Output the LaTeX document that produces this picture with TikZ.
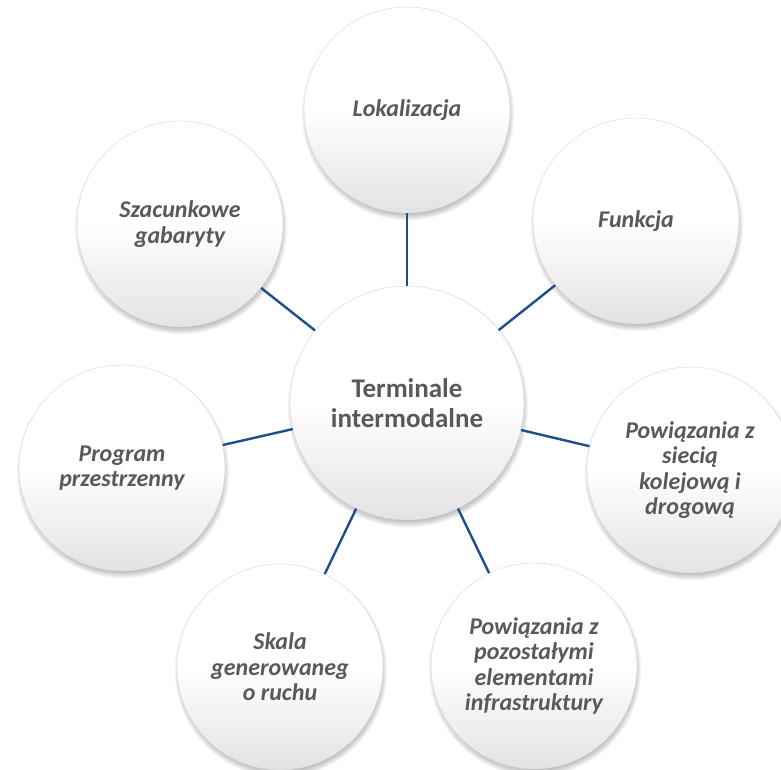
\documentclass[tikz,border=0pt]{standalone}
\usepackage{fontspec}
\setmainfont{Carlito}
\definecolor{txt}{RGB}{89,89,89}
\definecolor{conn}{RGB}{32,78,140}
\usetikzlibrary{shadings}
\tikzset{
  bubble/.style={circle, inner sep=0pt, minimum size=206pt, align=center,
    top color=white, bottom color=black!11, middle color=white,
    draw=black!16, line width=0.4pt,
    font=\fontsize{24}{25.5}\selectfont\bfseries\itshape, text=txt},
  hub/.style={bubble, minimum size=234pt, font=\fontsize{27}{30}\selectfont\bfseries},
  link/.style={draw=conn, line width=2.4pt},
}
\newcommand{\shadowcirc}[3]{%
  \foreach \k in {0,...,7}{
    \fill[black, opacity=0.035] (#1+1,#2+4) circle ({#3+0.9*\k});
  }}
\begin{document}
\begin{tikzpicture}[x=1pt,y=-1pt]
\useasboundingbox (0,0) rectangle (781,769);
\clip (0,0) rectangle (781,769);
% shadows
\shadowcirc{407}{403}{114}
\shadowcirc{407}{110}{100}
\shadowcirc{636}{221}{100}
\shadowcirc{690}{470}{100}
\shadowcirc{534}{666}{100}
\shadowcirc{280}{667}{100}
\shadowcirc{122}{468}{100}
\shadowcirc{180}{224}{100}
% nodes
\node[hub] (c) at (407,403) {Terminale\\intermodalne};
\node[bubble] (lok) at (407,110) {Lokalizacja};
\node[bubble] (fun) at (636,221) {Funkcja};
\node[bubble] (sie) at (690,470) {Powiązania z\\siecią\\kolejową i\\drogową};
\node[bubble] (poz) at (534,666) {Powiązania z\\pozostałymi\\elementami\\infrastruktury};
\node[bubble] (ska) at (280,667) {Skala\\generowaneg\\o ruchu};
\node[bubble] (pro) at (122,468) {Program\\przestrzenny};
\node[bubble] (sza) at (180,224) {Szacunkowe\\gabaryty};
% connectors
\foreach \n in {lok,fun,sie,poz,ska,pro,sza}{
  \path[link] (c) -- (\n);
}
\end{tikzpicture}
\end{document}
